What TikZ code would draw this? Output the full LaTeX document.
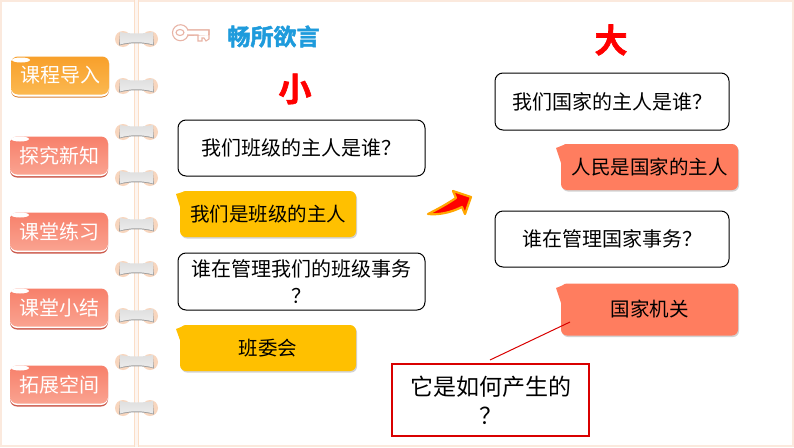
\documentclass[tikz,border=0pt]{standalone}
\usepackage{fontspec}
\setmainfont{Noto Sans CJK SC}
\newfontfamily\heavyfont[FakeBold=2]{Noto Sans CJK SC Bold}
\usetikzlibrary{shadows}
\definecolor{peach}{HTML}{FBE9DD}
\definecolor{ringend}{HTML}{F8D6BE}
\definecolor{sunny}{HTML}{FFC000}
\definecolor{salmon}{HTML}{FF7D5F}
\definecolor{titleblue}{HTML}{1E9BDC}
\definecolor{keypink}{HTML}{E8B4A6}
\definecolor{tabOrangeTop}{HTML}{F8A02A}
\definecolor{tabOrangeLow}{HTML}{FBB850}
\definecolor{tabOrangeBase}{HTML}{D98030}
\definecolor{tabRedTop}{HTML}{F7806A}
\definecolor{tabRedLow}{HTML}{FAA391}
\definecolor{tabRedBase}{HTML}{CC5A4C}
\tikzset{
    qbox/.style={draw=black, line width=1pt, rounded corners=8pt, fill=white, inner sep=0pt, align=center, font=\fontsize{20}{27}\selectfont},
    yelbox/.style={fill=sunny, rounded corners=6pt, inner sep=0pt, align=center, font=\fontsize{19.5}{24}\selectfont, drop shadow={shadow xshift=1pt, shadow yshift=-1.5pt, opacity=.35}},
    salbox/.style={yelbox, fill=salmon},
    tabbox/.style={rounded corners=7pt, minimum width=98pt, minimum height=38pt, inner sep=0pt, text=white, font=\fontsize{20}{24}\selectfont},
    tabbase/.style={fill=#1, rounded corners=7pt, minimum width=98pt, minimum height=41pt, inner sep=0pt},
    bigword/.style={text=red, inner sep=0pt, font=\fontsize{33}{33}\selectfont\heavyfont},
}
\begin{document}
\begin{tikzpicture}[x=1pt, y=-1pt]
\useasboundingbox (0,0) rectangle (794,447);
% frame and spine
\fill[white] (0,0) rectangle (794,447);
\draw[peach, line width=2pt] (1,1) rectangle (793,446);
\fill[peach!45] (134,0) rectangle (138,447);
\draw[peach!90!orange, line width=.8pt] (134,0)--(134,447);
\draw[peach!90!orange, line width=.8pt] (138,0)--(138,447);
% rings
\foreach \y in {39,86,132,178,225,269,316,362,408}
{
    \fill[ringend] (123,\y) ellipse (8 and 8);
    \fill[ringend] (150,\y) ellipse (8 and 8);
    \fill[gray!75] (120,\y-6) .. controls (130,\y-3) and (143,\y-3) .. (153,\y-6)
        -- (154,\y+6.5) .. controls (143,\y+3.5) and (130,\y+3.5) .. (119,\y+6.5) -- cycle;
    \shade[top color=gray!25, middle color=white, bottom color=gray!15] (120,\y-7) .. controls (130,\y-5) and (143,\y-5) .. (153,\y-7)
        -- (153,\y+5.5) .. controls (143,\y+2.5) and (130,\y+2.5) .. (120,\y+5.5) -- cycle;
}
% tabs
\node[tabbase=tabOrangeBase] at (60,77) {};
\fill[white, rounded corners=7pt] (11,56) rectangle (109,96.5);
\node[tabbox, top color=tabOrangeTop, bottom color=tabOrangeLow] (tabIntro) at (60,75.5) {课程导入};
\foreach \y/\t/\n in {156/探究新知/tabNew, 232/课堂练习/tabDrill, 308/课堂小结/tabSum, 385/拓展空间/tabExt}
{
    \node[tabbase=tabRedBase] at (59,\y+1) {};
    \fill[white, rounded corners=7pt] (10,\y-20.5) rectangle (108,\y+20);
    \node[tabbox, top color=tabRedTop, bottom color=tabRedLow] (\n) at (59,\y-.5) {\t};
}
\foreach \x/\y in {21/60, 20/139, 20/215, 20/291, 20/368}
{
    \fill[white] (\x,\y) ellipse (9 and 2.5);
}
% key and heading
\draw[keypink, line width=1.1pt, fill=white] (188,30) arc (-20:-340:8 and 8) -- (209,34.5) -- (209,30) -- cycle;
\fill[white] (187,29.5) rectangle (208,34.5);
\draw[keypink, line width=1.1pt] (187,30) -- (209,30) -- (209,39) -- (206,41) -- (204,38) -- (202,38) -- (202,41) -- (198,41) -- (198,35) -- (187,35);
\draw[keypink, line width=1.1pt] (180,32.5) ellipse (4 and 3);
\node[text=titleblue, inner sep=0pt, font=\fontsize{23}{23}\selectfont\heavyfont] (heading) at (273.5,36.5) {畅所欲言};
\node[bigword] (small) at (295,89) {小};
\node[bigword] (big) at (611,40) {大};
% left column
\node[qbox, minimum width=247pt, minimum height=56pt] (qClass) at (301.5,148) {我们班级的主人是谁？};
\node[yelbox, minimum width=176pt, minimum height=46pt] (aClass) at (268,214) {我们是班级的主人};
\fill[sunny] (176,194) -- (186,191) -- (181,210) -- cycle;
\node[qbox, minimum width=247pt, minimum height=57pt] (qDuty) at (301.5,281.5) {谁在管理我们的班级事务\\？};
\node[yelbox, minimum width=176pt, minimum height=46pt] (aDuty) at (268,348) {班委会};
\fill[sunny] (176,329) -- (186,325) -- (181,343) -- cycle;
% right column
\node[qbox, minimum width=234pt, minimum height=57pt] (qState) at (612,101.5) {我们国家的主人是谁？};
\node[salbox, minimum width=177pt, minimum height=46pt] (aState) at (649.5,167) {人民是国家的主人};
\fill[salmon] (556,148) -- (566,144) -- (561,163) -- cycle;
\node[qbox, minimum width=234pt, minimum height=56pt] (qAffair) at (612,239) {谁在管理国家事务？};
\node[salbox, minimum width=177pt, minimum height=52pt] (aAffair) at (649.5,309.5) {国家机关};
\fill[salmon] (556,288) -- (566,284) -- (561,303) -- cycle;
% arrow between the columns
\draw[orange!40!sunny, line width=2.2pt, fill=red, line join=round] (428,214) .. controls (438,209) and (447,204) .. (456,198) -- (453,191) -- (471,197) -- (465,214) -- (462,207) .. controls (450,213) and (438,215) .. (428,214) -- cycle;
% question box
\node[draw=red!85!black, line width=1.2pt, fill=white, minimum width=197pt, minimum height=72pt, inner sep=0pt, align=center, font=\fontsize{23}{29}\selectfont] (qHow) at (490.5,400) {它是如何产生的\\？};
\coordinate (lineEnd) at (570,322);
\coordinate (lineStart) at (490,360);
\draw[red!85!black, line width=1pt] (lineStart)--(lineEnd);
\end{tikzpicture}
\end{document}
